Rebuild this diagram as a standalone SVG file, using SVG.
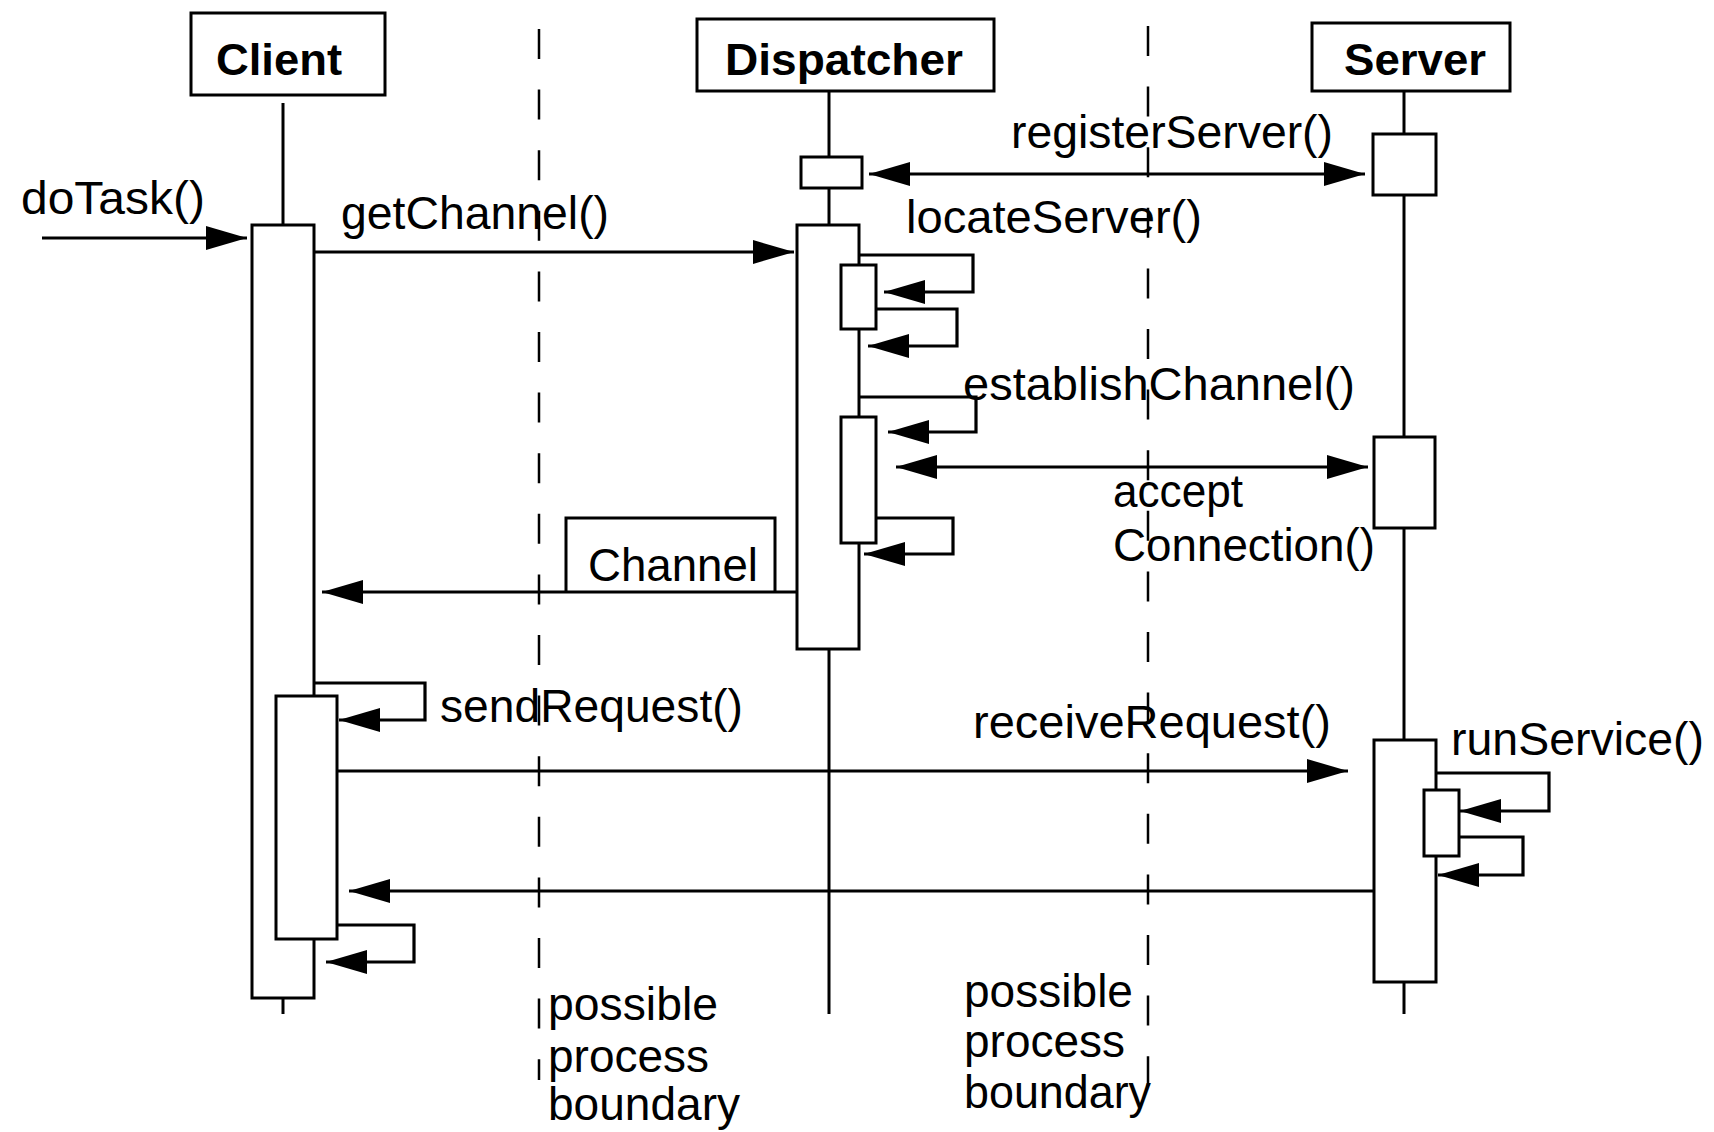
<svg xmlns="http://www.w3.org/2000/svg" width="1714" height="1132" viewBox="0 0 1714 1132">
<style>
  .box { fill: #fff; stroke: #000; stroke-width: 3; }
  .act { fill: #fff; stroke: #000; stroke-width: 3; }
  .life { stroke: #000; stroke-width: 3; fill: none; }
  .dash { stroke: #000; stroke-width: 2.5; stroke-dasharray: 30 30.6; fill: none; }
  .msg { stroke: #000; stroke-width: 3.2; fill: none; marker-end: url(#ah); }
  .both { marker-start: url(#ah); }
  .plain { stroke: #000; stroke-width: 3; fill: none; }
  .head { font-family: "Liberation Sans", Arial, Helvetica, sans-serif; font-weight: bold; font-size: 44px; fill: #000; }
  .lbl { font-family: "Liberation Sans", Arial, Helvetica, sans-serif; font-size: 47px; fill: #000; }
</style>
<defs>
  <marker id="ah" markerUnits="userSpaceOnUse" markerWidth="42" markerHeight="26" refX="41" refY="13" orient="auto-start-reverse">
    <path d="M0,1 L41,13 L0,25 Z" fill="#000"/>
  </marker>
</defs>
<rect width="1714" height="1132" fill="#fff"/>

<g id="boundaries">
  <line class="dash" x1="539" y1="29" x2="539" y2="1080"/>
  <line class="dash" x1="1148" y1="26" x2="1148" y2="1086"/>
  <text class="lbl" x="548" y="1020" textLength="170" lengthAdjust="spacingAndGlyphs">possible</text>
  <text class="lbl" x="548" y="1072" textLength="161" lengthAdjust="spacingAndGlyphs">process</text>
  <text class="lbl" x="548" y="1120" textLength="192" lengthAdjust="spacingAndGlyphs">boundary</text>
  <text class="lbl" x="964" y="1007" textLength="169" lengthAdjust="spacingAndGlyphs">possible</text>
  <text class="lbl" x="964" y="1057" textLength="161" lengthAdjust="spacingAndGlyphs">process</text>
  <text class="lbl" x="964" y="1108" textLength="187" lengthAdjust="spacingAndGlyphs">boundary</text>
</g>

<g id="client">
  <rect class="box" x="191" y="13" width="194" height="82"/>
  <text class="head" x="216" y="75" textLength="126" lengthAdjust="spacingAndGlyphs">Client</text>
  <line class="life" x1="283" y1="103" x2="283" y2="225"/>
  <line class="life" x1="283" y1="998" x2="283" y2="1014"/>
  <rect class="act" x="252" y="225" width="62" height="773"/>
  <rect class="act" x="276" y="696" width="61" height="243"/>
</g>

<g id="dispatcher">
  <rect class="box" x="697" y="19" width="297" height="72"/>
  <text class="head" x="725" y="75" textLength="238" lengthAdjust="spacingAndGlyphs">Dispatcher</text>
  <line class="life" x1="829" y1="91" x2="829" y2="157"/>
  <line class="life" x1="829" y1="188" x2="829" y2="225"/>
  <line class="life" x1="829" y1="649" x2="829" y2="1014"/>
  <rect class="act" x="801" y="157" width="61" height="31"/>
  <rect class="act" x="797" y="225" width="62" height="424"/>
  <rect class="act" x="841" y="265" width="35" height="64"/>
  <rect class="act" x="841" y="417" width="35" height="126"/>
</g>

<g id="server">
  <rect class="box" x="1312" y="23" width="198" height="68"/>
  <text class="head" x="1344" y="75" textLength="142" lengthAdjust="spacingAndGlyphs">Server</text>
  <line class="life" x1="1404" y1="91" x2="1404" y2="134"/>
  <line class="life" x1="1404" y1="195" x2="1404" y2="437"/>
  <line class="life" x1="1404" y1="528" x2="1404" y2="740"/>
  <line class="life" x1="1404" y1="982" x2="1404" y2="1014"/>
  <rect class="act" x="1373" y="134" width="63" height="61"/>
  <rect class="act" x="1374" y="437" width="61" height="91"/>
  <rect class="act" x="1374" y="740" width="62" height="242"/>
  <rect class="act" x="1424" y="790" width="35" height="66"/>
</g>

<g id="channel-label">
  <path class="plain" d="M566,592 V518 H775 V592"/>
  <text class="lbl" x="588" y="581" textLength="170" lengthAdjust="spacingAndGlyphs">Channel</text>
</g>

<g id="connectors">
  <path class="msg" d="M42,238 H247"/>
  <path class="msg" d="M314,252 H794"/>
  <path class="msg both" d="M869,174 H1365"/>
  <path class="msg" d="M859,255 H973 V292 H884"/>
  <path class="msg" d="M876,309 H957 V346 H868"/>
  <path class="msg" d="M859,397 H976 V432 H888"/>
  <path class="msg both" d="M896,467 H1368"/>
  <path class="msg" d="M876,518 H953 V554 H864"/>
  <path class="msg" d="M797,592 H322"/>
  <path class="msg" d="M314,683 H425 V720 H339"/>
  <path class="msg" d="M337,771 H1348"/>
  <path class="msg" d="M1436,773 H1549 V811 H1460"/>
  <path class="msg" d="M1459,837 H1523 V875 H1438"/>
  <path class="msg" d="M1374,891 H349"/>
  <path class="msg" d="M337,925 H414 V962 H326"/>
</g>

<g id="labels">
  <text class="lbl" x="21" y="214" textLength="184" lengthAdjust="spacingAndGlyphs">doTask()</text>
  <text class="lbl" x="341" y="229" textLength="268" lengthAdjust="spacingAndGlyphs">getChannel()</text>
  <text class="lbl" x="1011" y="148" textLength="322" lengthAdjust="spacingAndGlyphs">registerServer()</text>
  <text class="lbl" x="906" y="233" textLength="296" lengthAdjust="spacingAndGlyphs">locateServer()</text>
  <text class="lbl" x="963" y="400" textLength="392" lengthAdjust="spacingAndGlyphs">establishChannel()</text>
  <text class="lbl" x="1113" y="507" textLength="130" lengthAdjust="spacingAndGlyphs">accept</text>
  <text class="lbl" x="1113" y="561" textLength="262" lengthAdjust="spacingAndGlyphs">Connection()</text>
  <text class="lbl" x="440" y="722" textLength="303" lengthAdjust="spacingAndGlyphs">sendRequest()</text>
  <text class="lbl" x="973" y="738" textLength="358" lengthAdjust="spacingAndGlyphs">receiveRequest()</text>
  <text class="lbl" x="1451" y="755" textLength="253" lengthAdjust="spacingAndGlyphs">runService()</text>
</g>
</svg>
